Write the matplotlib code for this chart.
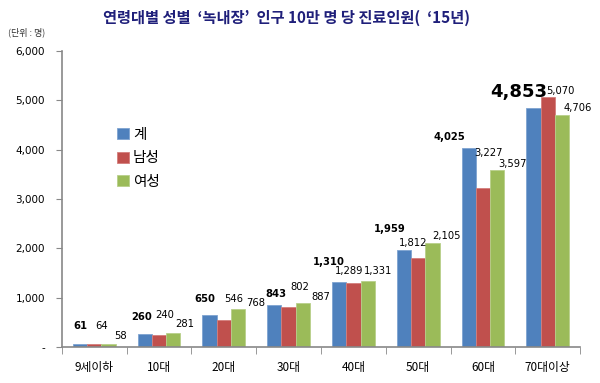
import matplotlib
matplotlib.use("Agg")
import matplotlib.pyplot as plt
import numpy as np
from matplotlib.ticker import FuncFormatter

plt.rcParams['font.family'] = ['Noto Sans CJK KR', 'DejaVu Sans']

categories = ['9세이하', '10대', '20대', '30대', '40대', '50대', '60대', '70대이상']
total = [61, 260, 650, 843, 1310, 1959, 4025, 4853]
male = [64, 240, 546, 802, 1289, 1812, 3227, 5070]
female = [58, 281, 768, 887, 1331, 2105, 3597, 4706]
series_names = ['계', '남성', '여성']
colors = ['#4F81BD', '#C0504D', '#9BBB59']
edges = ['#7EA3D1', '#D47E7C', '#B8D08A']

# label placement offsets (pixels: dx, dy from bar top) per series / category
label_offsets = [
    [(0, 18), (-3, 17), (-5, 16), (2, 11), (-10, 20), (-14, 21), (-19, 11), (-15, 16)],
    [(7, 18), (6, 20), (10, 21), (11, 20), (-4, 12), (-5, 15), (6, 35), (13, 6)],
    [(12, 8), (11, 9), (18, 6), (18, 6), (10, 10), (14, 7), (15, 6), (16, 7)],
]

fig = plt.figure(figsize=(6.0, 3.83), dpi=100)
ax = fig.add_axes([0.103, 0.094, 0.864, 0.773])

x = np.arange(len(categories))
w = 0.22
data = [total, male, female]
offs = [-w, 0, w]
for i, (vals, c, ec) in enumerate(zip(data, colors, edges)):
    ax.bar(x + offs[i], vals, width=w, color=c, edgecolor=ec, linewidth=0.6,
           label=series_names[i], zorder=2)
    for j, v in enumerate(vals):
        big = (i == 0 and j == len(vals) - 1)
        dx, dy = label_offsets[i][j]
        ax.annotate(f'{v:,}', (x[j] + offs[i], v), xytext=(dx, dy),
                    textcoords='offset pixels', ha='center', va='center',
                    fontsize=13 if big else 7.2,
                    fontweight='bold' if i == 0 else 'normal',
                    color='black', family='DejaVu Sans')

ax.set_xlim(-0.5, len(categories) - 0.5)
ax.set_ylim(0, 6000)
ax.set_yticks(np.arange(0, 6001, 1000))
ax.yaxis.set_major_formatter(FuncFormatter(lambda v, p: '-' if v == 0 else f'{int(v):,}'))
ax.set_xticks(x)
ax.set_xticklabels(categories, fontsize=8.5)
ax.set_xticks(np.arange(-0.5, len(categories), 1), minor=True)
ax.tick_params(axis='x', which='major', length=0, pad=10)
ax.tick_params(axis='x', which='minor', length=5, direction='out', color='#888888')
ax.tick_params(axis='y', length=4, direction='out', color='#888888', labelsize=7.5, pad=8)
for lab in ax.get_yticklabels():
    lab.set_family('DejaVu Sans')
for s in ['top', 'right']:
    ax.spines[s].set_visible(False)
for s in ['left', 'bottom']:
    ax.spines[s].set_color('#888888')
    ax.spines[s].set_linewidth(1.2)

leg = ax.legend(loc='upper left', bbox_to_anchor=(0.095, 0.76), frameon=False,
                fontsize=10.5, handlelength=0.8, handleheight=0.8,
                handletextpad=0.3, labelspacing=0.65, borderaxespad=0)

fig.text(0.478, 0.953, "연령대별 성별  ‘녹내장’  인구 10만 명 당 진료인원(  ‘15년)",
         ha='center', va='center', fontsize=11, fontweight='bold', color='#1F1F7A')
fig.text(0.013, 0.916, '(단위 : 명)', ha='left', va='center', fontsize=6.5, color='#333333')

fig.savefig('out.png', dpi=100)
